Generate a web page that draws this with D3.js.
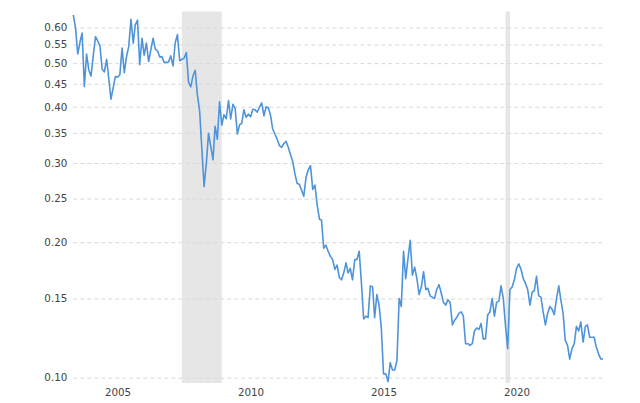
<!DOCTYPE html>
<html>
<head>
<meta charset="utf-8">
<script src="https://cdn.jsdelivr.net/npm/d3@7"></script>
<style>
  html, body { margin: 0; padding: 0; background: #fff; }
  svg { display: block; }
</style>
</head>
<body>
<svg id="chart" width="640" height="403"></svg>
<script>
// ---- data (monthly) ----
const startMonth = "2003-11-01";
const values = [
  0.640, 0.599, 0.524, 0.557, 0.583, 0.444, 0.524, 0.483, 0.468, 0.519,
  0.573, 0.560, 0.546, 0.485, 0.478, 0.510, 0.464, 0.416, 0.440, 0.467,
  0.465, 0.471, 0.540, 0.476, 0.517, 0.544, 0.626, 0.554, 0.608, 0.623,
  0.496, 0.568, 0.521, 0.554, 0.504, 0.535, 0.568, 0.538, 0.532, 0.516,
  0.517, 0.502, 0.502, 0.503, 0.519, 0.493, 0.555, 0.579, 0.506, 0.510,
  0.513, 0.528, 0.454, 0.443, 0.468, 0.482, 0.425, 0.391, 0.321, 0.266,
  0.300, 0.349, 0.326, 0.305, 0.362, 0.339, 0.410, 0.364, 0.384, 0.376,
  0.413, 0.376, 0.405, 0.397, 0.348, 0.365, 0.367, 0.394, 0.379, 0.385,
  0.380, 0.395, 0.394, 0.389, 0.399, 0.408, 0.382, 0.400, 0.398, 0.383,
  0.357, 0.348, 0.339, 0.328, 0.325, 0.331, 0.335, 0.325, 0.313, 0.302,
  0.284, 0.270, 0.269, 0.261, 0.253, 0.279, 0.290, 0.296, 0.262, 0.268,
  0.242, 0.225, 0.224, 0.194, 0.197, 0.191, 0.186, 0.183, 0.174, 0.178,
  0.167, 0.165, 0.171, 0.180, 0.171, 0.175, 0.165, 0.183, 0.183, 0.191,
  0.162, 0.135, 0.137, 0.136, 0.160, 0.159, 0.136, 0.153, 0.145, 0.129,
  0.102, 0.102, 0.098, 0.108, 0.104, 0.104, 0.109, 0.150, 0.144, 0.191,
  0.166, 0.184, 0.202, 0.169, 0.176, 0.166, 0.153, 0.159, 0.172, 0.157,
  0.158, 0.152, 0.151, 0.150, 0.157, 0.161, 0.154, 0.147, 0.145, 0.149,
  0.147, 0.131, 0.134, 0.136, 0.139, 0.140, 0.137, 0.119, 0.119, 0.118,
  0.119, 0.127, 0.129, 0.128, 0.132, 0.122, 0.122, 0.138, 0.140, 0.150,
  0.137, 0.147, 0.148, 0.160, 0.150, 0.130, 0.116, 0.157, 0.159, 0.165,
  0.175, 0.179, 0.174, 0.166, 0.162, 0.157, 0.145, 0.155, 0.156, 0.168,
  0.152, 0.151, 0.140, 0.131, 0.139, 0.144, 0.142, 0.138, 0.150, 0.160,
  0.149, 0.139, 0.121, 0.118, 0.110, 0.116, 0.119, 0.130, 0.127, 0.133,
  0.120, 0.130, 0.131, 0.123, 0.123, 0.123, 0.117, 0.113, 0.110, 0.110
];
const recessionStarts = ["2007-12-01", "2020-02-01"];
const recessionEnds   = ["2009-06-01", "2020-04-01"];
const yTicks = [0.10, 0.15, 0.20, 0.25, 0.30, 0.35, 0.40, 0.45, 0.50, 0.55, 0.60];
const xTickYears = [2005, 2010, 2015, 2020];

// ---- build table ----
const parse = d3.timeParse("%Y-%m-%d");
const t0 = parse(startMonth);
const data = values.map((v, i) => ({ date: d3.timeMonth.offset(t0, i), value: v }));

// ---- layout ----
const svg = d3.select("#chart");
const plotLeft = 73.3, plotRight = 603, plotTop = 11.5, plotBottom = 383;

const x = d3.scaleTime()
  .domain([data[0].date, data[data.length - 1].date])
  .range([plotLeft, plotRight]);

const y = d3.scaleLog()
  .domain([0.1, 0.6])
  .range([377.7, 27.5]);

// recession shading
svg.append("g").selectAll("rect")
  .data(recessionStarts.map((s, i) => ({ s: parse(s), e: parse(recessionEnds[i]) })))
  .join("rect")
  .attr("x", d => x(d.s))
  .attr("width", d => Math.max(4, x(d.e) - x(d.s)))
  .attr("y", plotTop)
  .attr("height", plotBottom - plotTop)
  .attr("fill", "#e6e6e6");

// grid lines + y labels
const yAxis = d3.axisLeft(y)
  .tickValues(yTicks)
  .tickFormat(d3.format(".2f"))
  .tickSize(-(plotRight - plotLeft))
  .tickPadding(6);

const gy = svg.append("g")
  .attr("transform", `translate(${plotLeft},0)`)
  .call(yAxis);
gy.select(".domain").remove();
gy.selectAll(".tick line")
  .attr("stroke", "#d9d9d9")
  .attr("stroke-width", 1)
  .attr("stroke-dasharray", "4,3");
gy.selectAll(".tick text")
  .attr("fill", "#444")
  .attr("font-family", "DejaVu Sans, sans-serif")
  .attr("font-size", "10.3px");

// x labels
const xAxis = d3.axisBottom(x)
  .tickValues(xTickYears.map(yr => new Date(yr, 6, 1)))
  .tickFormat(d3.timeFormat("%Y"))
  .tickSize(0)
  .tickPadding(0);
const gx = svg.append("g")
  .attr("transform", `translate(0,389)`)
  .call(xAxis);
gx.select(".domain").remove();
gx.selectAll(".tick text")
  .attr("fill", "#444")
  .attr("font-family", "DejaVu Sans, sans-serif")
  .attr("font-size", "10.3px");

// line
const line = d3.line()
  .x(d => x(d.date))
  .y(d => y(d.value));

svg.append("path")
  .datum(data)
  .attr("fill", "none")
  .attr("stroke", "#4d94db")
  .attr("stroke-width", 1.6)
  .attr("stroke-linejoin", "round")
  .attr("d", line);
</script>
</body>
</html>
